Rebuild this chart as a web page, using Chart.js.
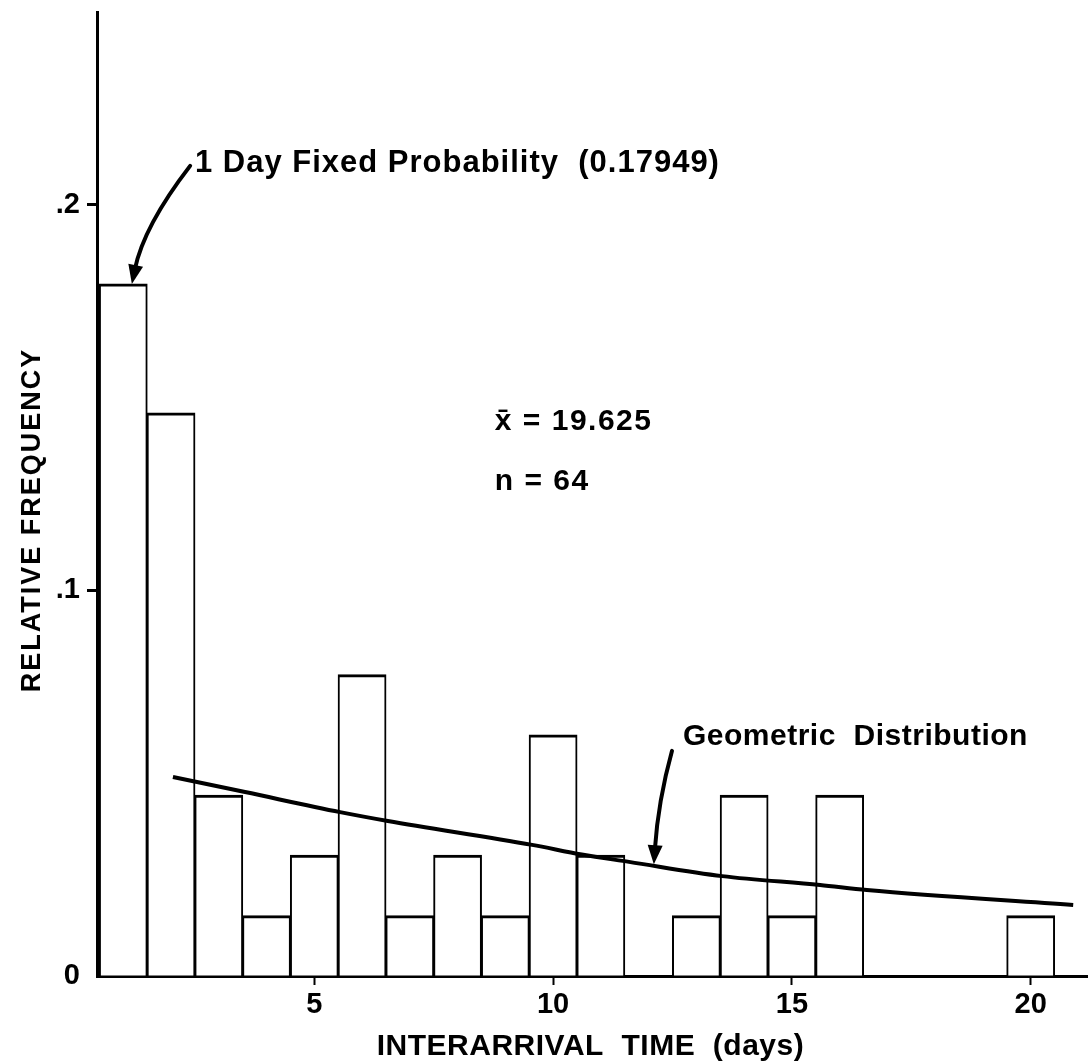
<!DOCTYPE html>
<html>
<head>
<meta charset="utf-8">
<script src="https://cdn.jsdelivr.net/npm/chart.js@4.4.1/dist/chart.umd.min.js"></script>
<style>
html,body{margin:0;padding:0;background:#fff;}
#wrap{width:1088px;height:1064px;position:relative;}
</style>
</head>
<body>
<div id="wrap"><canvas id="c" width="1088" height="1064"></canvas></div>
<script>
// ---- data ----
const days = [1,2,3,4,5,6,7,8,9,10,11,12,13,14,15,16,17,18,19,20];
const relFreq = [0.17949,0.146,0.0469,0.0156,0.0313,0.0781,0.0156,0.0313,0.0156,0.0625,0.0313,null,0.0156,0.0469,0.0156,0.0469,null,null,null,0.0156];
const geomX = [2.04,3.55,5.54,6.54,9.56,10.6,11.59,13.54,15.59,16.57,20.89];
const geomY = [0.0516,0.0477,0.0425,0.0402,0.0340,0.0315,0.0296,0.0259,0.0236,0.0223,0.0184];
const xTickValues = [5,10,15,20];
const yTickValues = [0,0.1,0.2];
const yTickLabels = ['0','.1','.2'];
const xTitle = 'INTERARRIVAL  TIME  (days)';
const yTitle = 'RELATIVE FREQUENCY';
const fixedNote = '1 Day Fixed Probability  (0.17949)';
const meanNote = 'x\u0304 = 19.625';
const nNote = 'n = 64';
const geomNote = 'Geometric  Distribution';

const FONT = "'Liberation Sans', Arial, sans-serif";

function arrow(ctx, x, y, p0, c, p1){
  const P0 = {x:x.getPixelForValue(p0[0]), y:y.getPixelForValue(p0[1])};
  const C  = {x:x.getPixelForValue(c[0]),  y:y.getPixelForValue(c[1])};
  const P1 = {x:x.getPixelForValue(p1[0]), y:y.getPixelForValue(p1[1])};
  const ang = Math.atan2(P1.y - C.y, P1.x - C.x);
  const L = 19, W = 7.5;
  const bx = P1.x - L*Math.cos(ang), by = P1.y - L*Math.sin(ang);
  ctx.beginPath();
  ctx.moveTo(P0.x, P0.y);
  ctx.quadraticCurveTo(C.x, C.y, bx + 4*Math.cos(ang), by + 4*Math.sin(ang));
  ctx.lineWidth = 4;
  ctx.lineCap = 'round';
  ctx.stroke();
  ctx.beginPath();
  ctx.moveTo(P1.x, P1.y);
  ctx.lineTo(bx + W*Math.sin(ang), by - W*Math.cos(ang));
  ctx.lineTo(bx - W*Math.sin(ang), by + W*Math.cos(ang));
  ctx.closePath();
  ctx.fill();
}

function txt(ctx, s, px, py, size, spacing){
  ctx.font = 'bold ' + size + 'px ' + FONT;
  ctx.letterSpacing = (spacing||0) + 'px';
  ctx.fillText(s, px, py);
}

const annot = {
  id: 'annot',
  afterDraw(chart){
    const {ctx} = chart;
    const x = chart.scales.x, y = chart.scales.y;
    ctx.save();
    ctx.fillStyle = '#000';
    ctx.strokeStyle = '#000';
    ctx.textBaseline = 'alphabetic';
    ctx.textAlign = 'left';
    txt(ctx, fixedNote, x.getPixelForValue(2.50), y.getPixelForValue(0.2085), 31, 1);
    txt(ctx, meanNote, x.getPixelForValue(8.78), y.getPixelForValue(0.1416), 30, 1.5);
    txt(ctx, nNote, x.getPixelForValue(8.78), y.getPixelForValue(0.1260), 30, 1.5);
    txt(ctx, geomNote, x.getPixelForValue(12.72), y.getPixelForValue(0.0599), 30, 0.5);
    arrow(ctx, x, y, [2.40,0.2101], [1.43,0.1945], [1.18, relFreq[0]]);
    arrow(ctx, x, y, [12.49,0.0584], [12.20,0.0454], [12.11,0.0290]);
    // axis titles
    ctx.textAlign = 'center';
    ctx.textBaseline = 'middle';
    txt(ctx, xTitle, (chart.chartArea.left + chart.chartArea.right)/2 - 2, 1047, 30, 0.5);
    ctx.save();
    ctx.translate(33, 520);
    ctx.rotate(-Math.PI/2);
    txt(ctx, yTitle, 0, 0, 27, 2);
    ctx.restore();
    ctx.restore();
  }
};

new Chart(document.getElementById('c'), {
  type: 'bar',
  data: {
    datasets: [
      {
        type: 'line',
        data: geomX.map((v,i)=>({x:v, y:geomY[i]})),
        borderColor: '#000',
        borderWidth: 4,
        pointRadius: 0,
        fill: false,
        tension: 0.4,
        cubicInterpolationMode: 'monotone'
      },
      {
        type: 'bar',
        data: days.map((d,i)=>({x:d, y:relFreq[i]})),
        backgroundColor: '#fff',
        borderColor: '#000',
        borderWidth: {top:3, left:2, right:2, bottom:0},
        borderSkipped: 'bottom',
        barPercentage: 1,
        categoryPercentage: 1,
        inflateAmount: 0.5
      }
    ]
  },
  options: {
    responsive: false,
    animation: false,
    events: [],
    layout: {padding: {top: 12, left: 0, right: 0, bottom: 0}},
    plugins: {legend: {display: false}, tooltip: {enabled: false}},
    scales: {
      x: {
        type: 'linear',
        min: 0.45, max: 21.2,
        offset: false,
        afterFit(s){ s.height = 88; s.paddingLeft = 0; s.paddingRight = 0; },
        afterBuildTicks(s){ s.ticks = xTickValues.map(v=>({value:v})); },
        grid: {display: true, offset: false, drawOnChartArea: false, drawTicks: true, tickLength: 9, tickWidth: 2, tickColor: '#000'},
        border: {display: true, color: '#000', width: 3},
        ticks: {autoSkip: false, maxRotation: 0, padding: 3, color: '#000',
          font: {family: FONT, size: 29, weight: 'bold'},
          callback: v => String(v)}
      },
      y: {
        type: 'linear',
        min: 0, max: 0.25,
        afterFit(s){ s.width = 97; s.paddingTop = 0; s.paddingBottom = 0; },
        afterBuildTicks(s){ s.ticks = yTickValues.map(v=>({value:v})); },
        grid: {display: true, offset: false, drawOnChartArea: false, drawTicks: true, tickLength: 10, tickWidth: 3,
          tickColor: c => (c.tick && c.tick.value === 0) ? 'rgba(0,0,0,0)' : '#000'},
        border: {display: true, color: '#000', width: 3},
        ticks: {padding: 7, color: '#000',
          font: {family: FONT, size: 29, weight: 'bold'},
          callback: v => yTickLabels[yTickValues.indexOf(v)]}
      }
    }
  },
  plugins: [annot]
});
</script>
</body>
</html>
